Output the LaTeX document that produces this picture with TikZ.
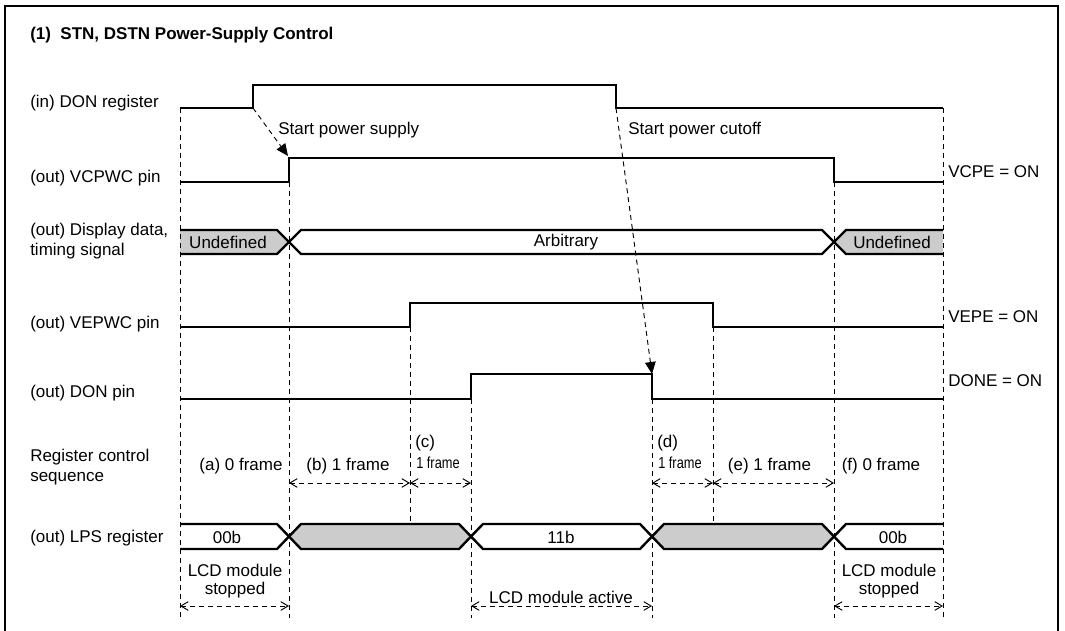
\documentclass[tikz,border=0pt]{standalone}
\usepackage{fontspec}
\setmainfont{Liberation Sans}
\usetikzlibrary{arrows.meta}
\begin{document}
\begin{tikzpicture}[x=0.75pt,y=-0.75pt,
 wave/.style={line width=1.8pt, line join=miter},
 frameline/.style={line width=2pt},
 guide/.style={line width=0.7pt, dash pattern=on 3.75pt off 3pt},
 dimarrow/.style={line width=0.7pt, dash pattern=on 3.75pt off 3pt, {Straight Barb[length=5.5pt,width=6.5pt]}-{Straight Barb[length=5.5pt,width=6.5pt]}},
 cause/.style={line width=0.7pt, dash pattern=on 3.75pt off 3pt, -{Triangle[length=9pt,width=8pt]}},
 lbl/.style={font=\fontsize{12.75pt}{15pt}\selectfont, inner sep=0pt},
 ttl/.style={font=\fontsize{12.75pt}{15pt}\selectfont\bfseries, inner sep=0pt},
 small/.style={font=\fontsize{12pt}{13pt}\selectfont, inner sep=0pt},
 busfill/.style={fill=gray!40, draw=none}
]
\useasboundingbox (0,0) rectangle (1065,631);
\draw[frameline] (5,6) rectangle (1058,645);

% title
\node[ttl, anchor=west] (title) at (30,35) {(1)\ \ STN, DSTN Power-Supply Control};

% left labels
\node[lbl, anchor=west] (l1) at (30,103) {(in) DON register};
\node[lbl, anchor=west] (l2) at (30,178) {(out) VCPWC pin};
\node[lbl, anchor=west, align=left] (l3) at (30,241) {(out) Display data,\\timing signal};
\node[lbl, anchor=west] (l4) at (30,324) {(out) VEPWC pin};
\node[lbl, anchor=west] (l5) at (30,393) {(out) DON pin};
\node[lbl, anchor=west, align=left] (l6) at (30,467) {Register control\\sequence};
\node[lbl, anchor=west] (l7) at (30,538) {(out) LPS register};

% right labels
\node[lbl, anchor=west] (r1) at (948,172) {VCPE = ON};
\node[lbl, anchor=west] (r2) at (948,317) {VEPE = ON};
\node[lbl, anchor=west] (r3) at (948,381) {DONE = ON};

% gray fills
\fill[busfill] (180,230) -- (277,230) -- (289,242) -- (277,254) -- (180,254) -- cycle;
\fill[busfill] (943,230) -- (846,230) -- (834,242) -- (846,254) -- (943,254) -- cycle;
\fill[busfill] (289,536.5) -- (301,524) -- (459,524) -- (471,536.5) -- (459,549) -- (301,549) -- cycle;
\fill[busfill] (652,536.5) -- (664,524) -- (822,524) -- (834,536.5) -- (822,549) -- (664,549) -- cycle;

% guides
\draw[guide] (180,108) -- (180,618);
\draw[guide] (943,108) -- (943,618);
\draw[guide] (289,182) -- (289,618);
\draw[guide] (834,182) -- (834,618);
\draw[guide] (410,327) -- (410,524);
\draw[guide] (713,327) -- (713,524);
\draw[guide] (471,399) -- (471,618);
\draw[guide] (652,399) -- (652,618);

% waveforms
\draw[wave] (180,108) -- (253,108) -- (253,85) -- (616,85) -- (616,108) -- (943,108);
\draw[wave] (180,182) -- (289,182) -- (289,158) -- (834,158) -- (834,182) -- (943,182);
\draw[wave] (180,327) -- (410,327) -- (410,303) -- (713,303) -- (713,327) -- (943,327);
\draw[wave] (180,399) -- (471,399) -- (471,374) -- (652,374) -- (652,399) -- (943,399);
% display data bus
\draw[wave] (180,230) -- (277,230) -- (301,254) -- (822,254) -- (846,230) -- (943,230);
\draw[wave] (180,254) -- (277,254) -- (301,230) -- (822,230) -- (846,254) -- (943,254);
% LPS bus
\draw[wave] (180,524) -- (277,524) -- (301,549) -- (459,549) -- (483,524) -- (640,524) -- (664,549) -- (822,549) -- (846,524) -- (943,524);
\draw[wave] (180,549) -- (277,549) -- (301,524) -- (459,524) -- (483,549) -- (640,549) -- (664,524) -- (822,524) -- (846,549) -- (943,549);

% bus texts
\node[lbl] (u1) at (228,242) {Undefined};
\node[lbl] (arb) at (566,242) {Arbitrary};
\node[lbl] (u2) at (892,242) {Undefined};
\node[lbl] (v1) at (227,537) {00b};
\node[lbl] (v2) at (561,537) {11b};
\node[lbl] (v3) at (893,537) {00b};

% causal arrows
\coordinate (donR) at (253,108);
\coordinate (vcR) at (288,156);
\coordinate (donF) at (616,108);
\coordinate (dpF) at (652,374);
\draw[cause] (donR) -- (vcR);
\draw[cause] (donF) -- (dpF);
\node[lbl, anchor=west] (sps) at (278,130) {Start power supply};
\node[lbl, anchor=west] (spc) at (628,130) {Start power cutoff};

% register control sequence
\node[lbl] (sa) at (241,466) {(a) 0 frame};
\node[lbl] (sb) at (348,466) {(b) 1 frame};
\node[lbl, anchor=west] (sc) at (415,443) {(c)};
\node[small, anchor=west] (sc2) at (416,463) {\scalebox{0.8}[1]{1 frame}};
\node[lbl, anchor=west] (sd) at (657,443) {(d)};
\node[small, anchor=west] (sd2) at (658,463) {\scalebox{0.8}[1]{1 frame}};
\node[lbl] (se) at (769.5,466) {(e) 1 frame};
\node[lbl] (sf) at (881,466) {(f) 0 frame};

\coordinate (a289) at (289,483);
\coordinate (a410) at (410,483);
\coordinate (a471) at (471,483);
\coordinate (a652) at (652,483);
\coordinate (a713) at (713,483);
\coordinate (a834) at (834,483);
\draw[dimarrow] (a289) -- (a410);
\draw[dimarrow] (a410) -- (a471);
\draw[dimarrow] (a652) -- (a713);
\draw[dimarrow] (a713) -- (a834);

% bottom
\node[lbl, align=center, font=\fontsize{12.75pt}{13.5pt}\selectfont] (m1) at (235,581) {LCD module\\stopped};
\node[lbl] (m2) at (561,597) {LCD module active};
\node[lbl, align=center, font=\fontsize{12.75pt}{13.5pt}\selectfont] (m3) at (889,581) {LCD module\\stopped};
\coordinate (b180) at (180,606);
\coordinate (b289) at (289,606);
\coordinate (b471) at (471,606);
\coordinate (b652) at (652,606);
\coordinate (b834) at (834,606);
\coordinate (b943) at (943,606);
\draw[dimarrow] (b180) -- (b289);
\draw[dimarrow] (b471) -- (b652);
\draw[dimarrow] (b834) -- (b943);
\end{tikzpicture}
\end{document}
